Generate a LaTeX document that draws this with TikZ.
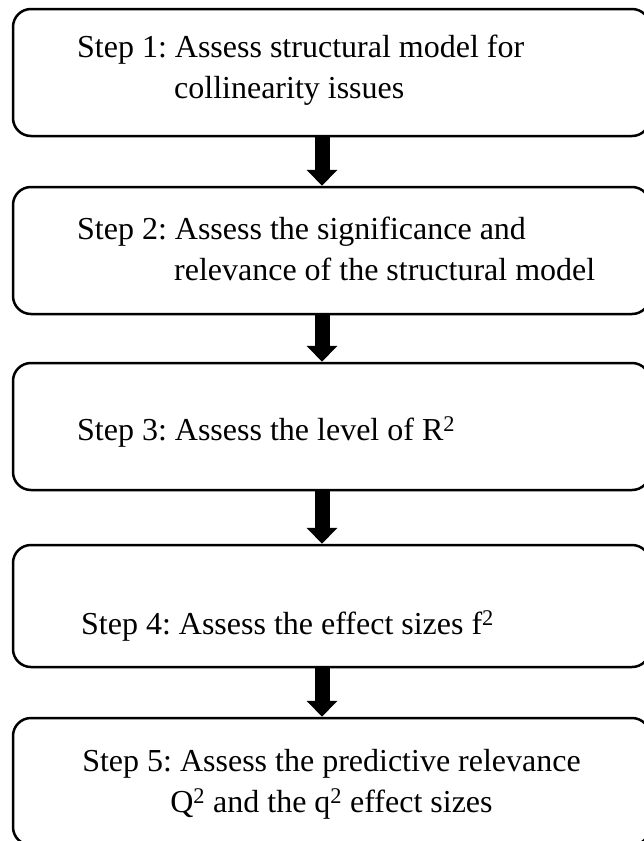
\documentclass[tikz,border=0pt]{standalone}
\usepackage{fontspec}
\setmainfont{Liberation Serif}
\usetikzlibrary{arrows.meta}
\frenchspacing
\begin{document}
\begin{tikzpicture}[x=1pt, y=1pt, thick]
\tikzstyle{stepbox} = [draw,rectangle,rounded corners=18pt,line width=2.5pt,minimum width=637pt,minimum height=127pt]
\tikzstyle{steptext} = [anchor=west,align=left,inner sep=0pt,font=\fontsize{32}{41}\selectfont]
\tikzstyle{connector} = [-{Triangle[width=30pt,length=16pt]},line width=15pt]
\useasboundingbox (0,0) rectangle (644,-841);
\clip (0,0) rectangle (644,-841);

\node[stepbox](s1) at (331.5,-72.5){};
\node[stepbox](s2) at (331.5,-250.5){};
\node[stepbox](s3) at (331.5,-426.5){};
\node[stepbox,minimum height=122pt](s4) at (331.5,-606){};
\node[stepbox](s5) at (331.5,-781.5){};

\node[steptext](t1) at ([xshift=65pt,yshift=2pt]s1.west){Step 1: Assess structural model for\\\hspace*{97pt}collinearity issues};
\node[steptext](t2) at ([xshift=65pt,yshift=2pt]s2.west){Step 2: Assess the significance and\\\hspace*{97pt}relevance of the structural model};
\node[steptext](t3) at ([xshift=65pt,yshift=-5pt]s3.west){Step 3: Assess the level of R\textsuperscript{2}};
\node[steptext](t4) at ([xshift=69pt,yshift=-20pt]s4.west){Step 4: Assess the effect sizes f\textsuperscript{2}};
\node[steptext,anchor=center,align=center](t5) at ([yshift=-3pt]s5.center){Step 5: Assess the predictive relevance\\Q\textsuperscript{2} and the q\textsuperscript{2} effect sizes};

\draw [connector] ([xshift=-9.5pt]s1.south) -- ([xshift=-9.5pt]s2.north);
\draw [connector] ([xshift=-9.5pt]s2.south) -- ([xshift=-9.5pt]s3.north);
\draw [connector] ([xshift=-9.5pt]s3.south) -- ([xshift=-9.5pt]s4.north);
\draw [connector] ([xshift=-9.5pt]s4.south) -- ([xshift=-9.5pt]s5.north);
\end{tikzpicture}
\end{document}
